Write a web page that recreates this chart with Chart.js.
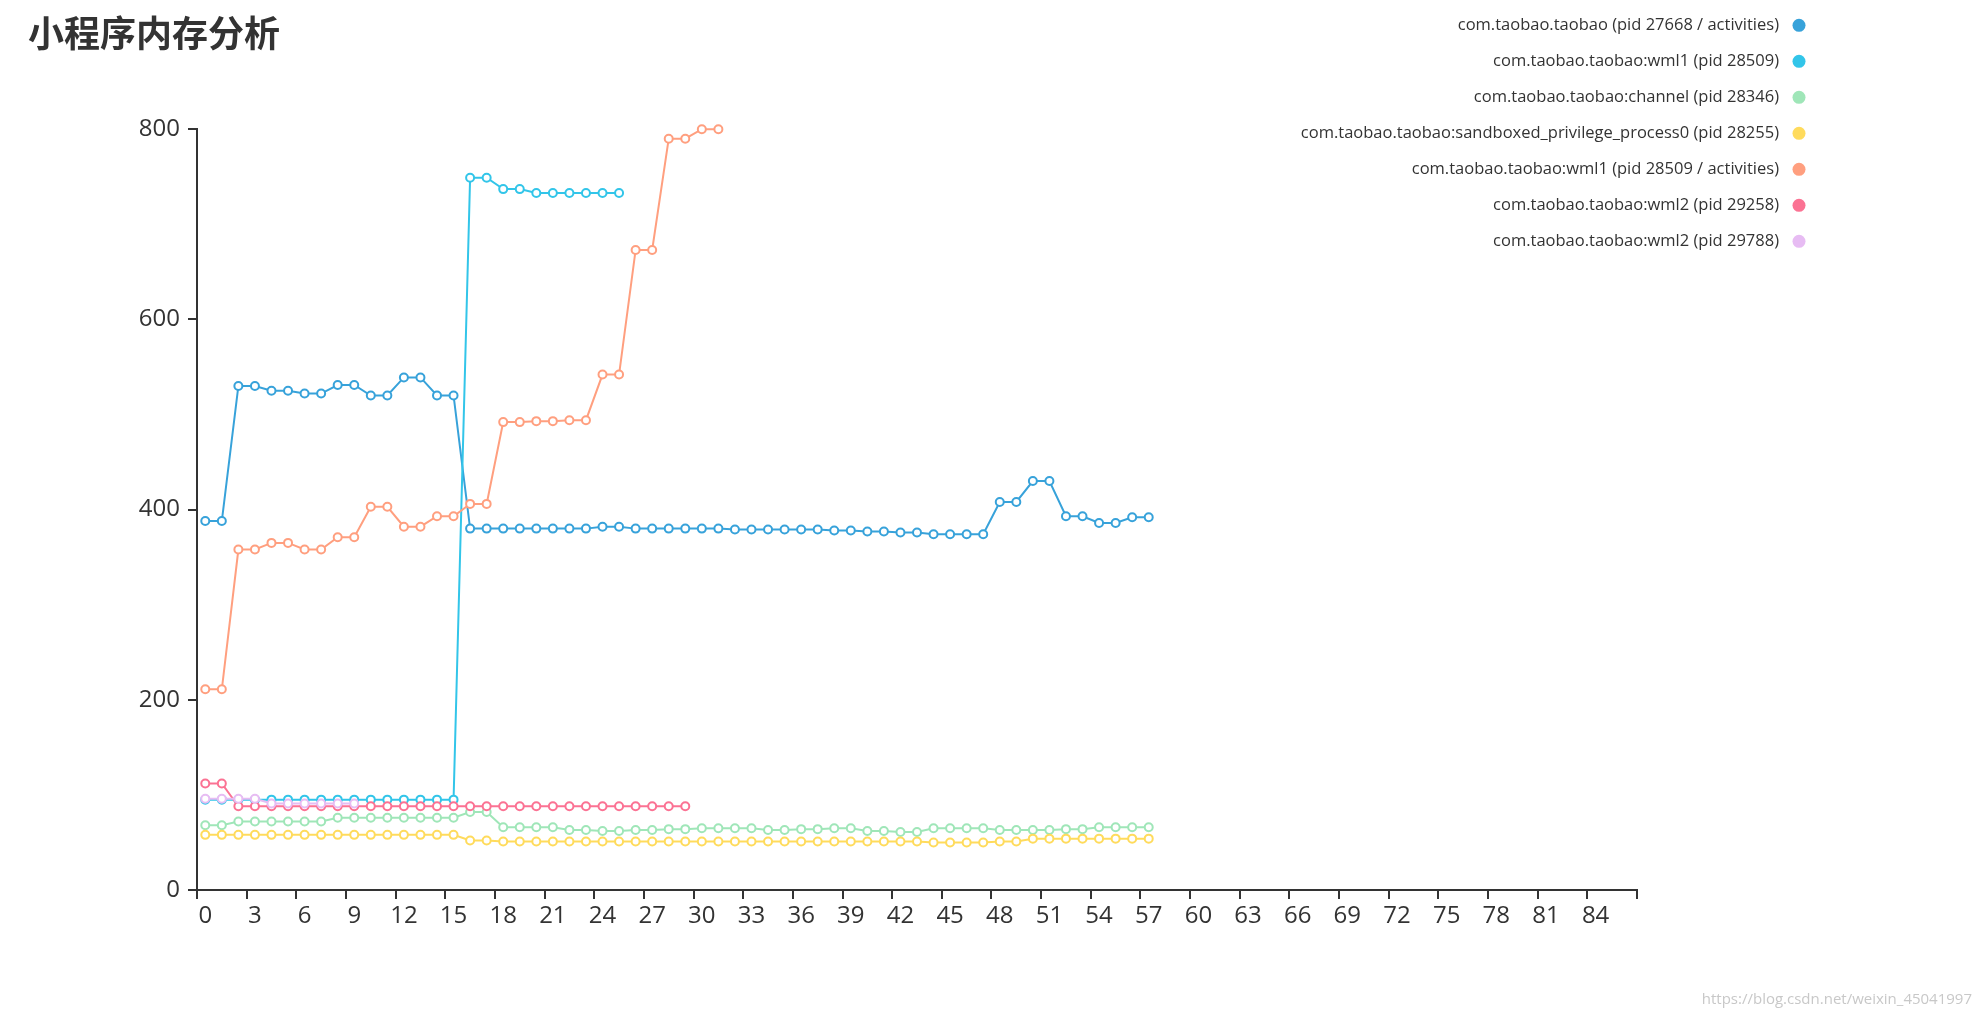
<!DOCTYPE html>
<html><head><meta charset="utf-8">
<script src="https://cdn.jsdelivr.net/npm/chart.js@4"></script>
<style>html,body{margin:0;padding:0;background:#fff;}#wrap{width:1981px;height:1017px;}</style>
</head><body><div id="wrap"><canvas id="c" width="1981" height="1017"></canvas></div>
<script>
const chartTitle = '小程序内存分析';
const watermark = 'https://blog.csdn.net/weixin_45041997';

const categories = ['0','1','2','3','4','5','6','7','8','9','10','11','12','13','14','15','16','17','18','19',
  '20','21','22','23','24','25','26','27','28','29','30','31','32','33','34','35','36','37','38','39',
  '40','41','42','43','44','45','46','47','48','49','50','51','52','53','54','55','56','57','58','59',
  '60','61','62','63','64','65','66','67','68','69','70','71','72','73','74','75','76','77','78','79',
  '80','81','82','83','84','85','86'];

const seriesNames = [
  'com.taobao.taobao (pid 27668 / activities)',
  'com.taobao.taobao:wml1 (pid 28509)',
  'com.taobao.taobao:channel (pid 28346)',
  'com.taobao.taobao:sandboxed_privilege_process0 (pid 28255)',
  'com.taobao.taobao:wml1 (pid 28509 / activities)',
  'com.taobao.taobao:wml2 (pid 29258)',
  'com.taobao.taobao:wml2 (pid 29788)'
];
const seriesColors = ['#37A2DA', '#32C5E9', '#9FE6B8', '#FFDB5C', '#ff9f7f', '#fb7293', '#e7bcf3'];

const taobaoMain = [388,388,530,530,525,525,522,522,531,531,520,520,539,539,520,520,380,380,380,380,
  380,380,380,380,382,382,380,380,380,380,380,380,379,379,379,379,379,379,378,378,
  377,377,376,376,374,374,374,374,408,408,430,430,393,393,386,386,392,392];
const wml1 = [95,95,95,95,95,95,95,95,95,95,95,95,95,95,95,95,749,749,737,737,733,733,733,733,733,733];
const channel = [68,68,72,72,72,72,72,72,76,76,76,76,76,76,76,76,82,82,66,66,
  66,66,63,63,62,62,63,63,64,64,65,65,65,65,63,63,64,64,65,65,
  62,62,61,61,65,65,65,65,63,63,63,63,64,64,66,66,66,66];
const sandboxed = [58,58,58,58,58,58,58,58,58,58,58,58,58,58,58,58,52,52,51,51,
  51,51,51,51,51,51,51,51,51,51,51,51,51,51,51,51,51,51,51,51,
  51,51,51,51,50,50,50,50,51,51,54,54,54,54,54,54,54,54];
const wml1Activities = [211,211,358,358,365,365,358,358,371,371,403,403,382,382,393,393,406,406,492,492,
  493,493,494,494,542,542,673,673,790,790,800,800];
const wml2a = [112,112,88,88,88,88,88,88,88,88,88,88,88,88,88,88,88,88,88,88,88,88,88,88,88,88,88,88,88,88];
const wml2b = [96,96,96,96,91,91,91,91,91,91];

const yMin = 0, yMax = 800, yStep = 200;

const seriesData = [taobaoMain, wml1, channel, sandboxed, wml1Activities, wml2a, wml2b];

const FONT = '"Open Sans", "Noto Sans", sans-serif';

const sideLegend = {
  id: 'sideLegend',
  afterDraw(chart) {
    const ctx = chart.ctx;
    ctx.save();
    ctx.font = '16.5px ' + FONT;
    ctx.textAlign = 'right';
    ctx.textBaseline = 'middle';
    chart.data.datasets.forEach((ds, i) => {
      const y = 25.3 + i * 36;
      ctx.fillStyle = '#333';
      ctx.fillText(ds.label, 1779, y);
      ctx.beginPath();
      ctx.arc(1799, y, 6.5, 0, Math.PI * 2);
      ctx.fillStyle = ds.borderColor;
      ctx.fill();
    });
    ctx.font = '15px ' + FONT;
    ctx.fillStyle = '#c8c8c8';
    ctx.textAlign = 'right';
    ctx.fillText(watermark, 1972, 1000);
    ctx.restore();
  }
};

new Chart(document.getElementById('c'), {
  type: 'line',
  data: {
    labels: categories,
    datasets: seriesData.map((d, i) => ({
      label: seriesNames[i],
      data: d,
      borderColor: seriesColors[i],
      backgroundColor: seriesColors[i],
      borderWidth: 2,
      pointRadius: 4,
      pointBorderWidth: 2,
      pointBackgroundColor: '#fff',
      pointBorderColor: seriesColors[i],
      tension: 0,
      fill: false,
      clip: false,
      order: -i
    }))
  },
  options: {
    responsive: false,
    devicePixelRatio: 1,
    animation: false,
    layout: { padding: { left: 28, right: 344, top: 0, bottom: 67 } },
    plugins: {
      legend: { display: false },
      tooltip: { enabled: false },
      title: {
        display: true,
        text: chartTitle,
        align: 'start',
        color: '#333',
        font: { family: '"Noto Sans CJK SC", sans-serif', size: 36, weight: 'bold', lineHeight: 1.2 },
        padding: { top: 12, bottom: 74 }
      }
    },
    scales: {
      x: {
        type: 'category',
        offset: true,
        afterFit: s => { s.height = 60; },
        grid: {
          offset: true,
          drawOnChartArea: false,
          drawTicks: true,
          tickLength: 9,
          lineWidth: 2,
          color: ctx => (ctx.index === undefined || ctx.index % 3 === 0) ? '#333' : 'rgba(0,0,0,0)'
        },
        border: { display: true, color: '#333', width: 2 },
        ticks: {
          autoSkip: false,
          maxRotation: 0,
          minRotation: 0,
          padding: 3,
          color: '#333',
          font: { family: FONT, size: 24 },
          callback: (v, i) => (i % 3 === 0 ? categories[i] : '')
        }
      },
      y: {
        min: yMin,
        max: yMax,
        afterFit: s => { s.width = 169; },
        grid: { drawOnChartArea: false, drawTicks: true, tickLength: 9, lineWidth: 2, color: '#333' },
        border: { display: true, color: '#333', width: 2 },
        ticks: { stepSize: yStep, padding: 8, color: '#333', font: { family: FONT, size: 24 } }
      }
    }
  },
  plugins: [sideLegend]
});
</script>
</body></html>
